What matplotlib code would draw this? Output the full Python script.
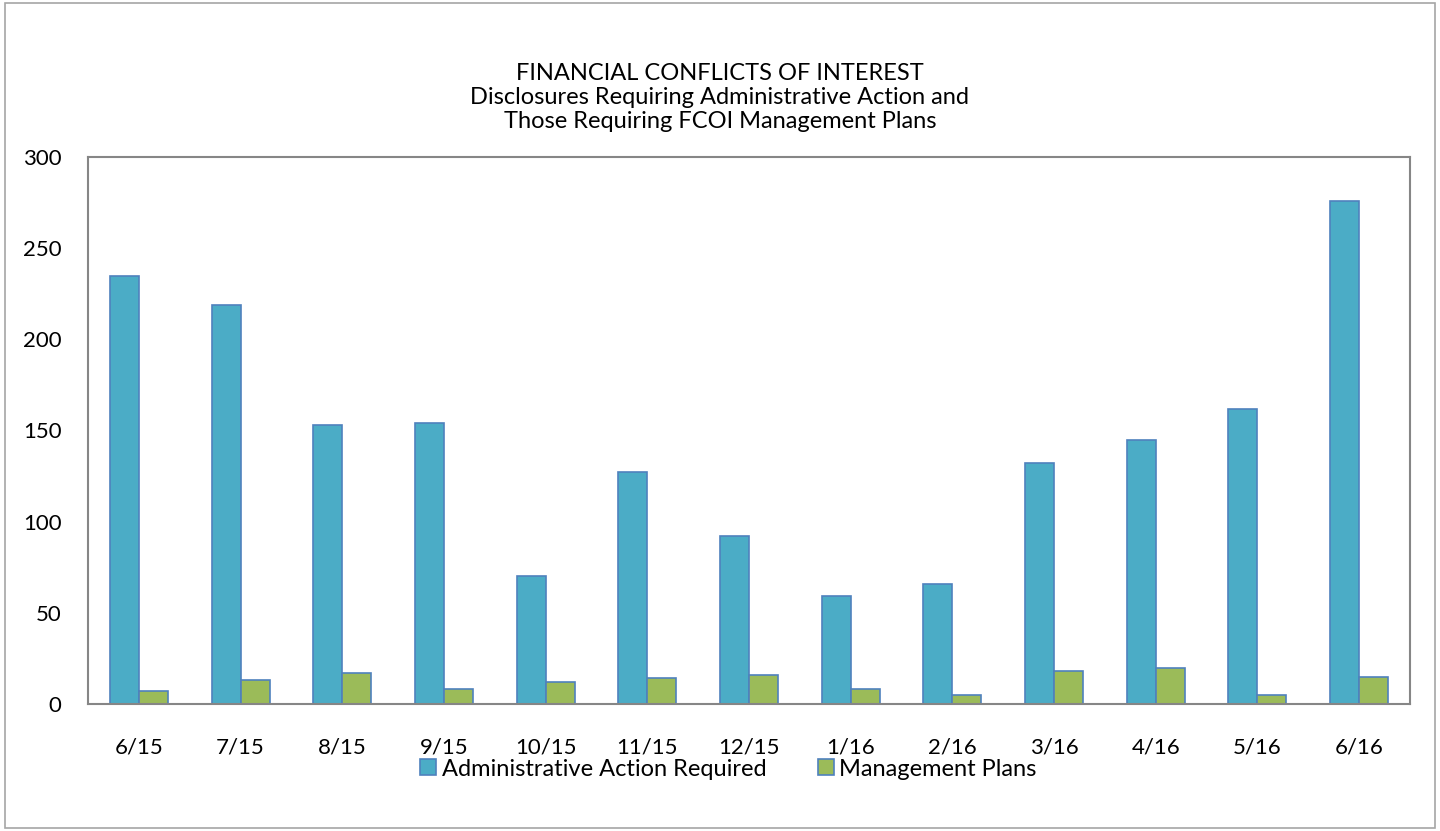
import matplotlib
matplotlib.use("Agg")
import matplotlib.pyplot as plt
import numpy as np
from matplotlib.patches import Rectangle

plt.rcParams['font.family'] = ['Lato', 'DejaVu Sans']

categories = ["6/15", "7/15", "8/15", "9/15", "10/15", "11/15", "12/15",
              "1/16", "2/16", "3/16", "4/16", "5/16", "6/16"]
admin_action = [235, 219, 153, 154, 70, 127, 92, 59, 66, 132, 145, 162, 276]
mgmt_plans = [7, 13, 17, 8, 12, 14, 16, 8, 5, 18, 20, 5, 15]
yticks = [0, 50, 100, 150, 200, 250, 300]

W, H = 1440, 831
fig = plt.figure(figsize=(W / 100, H / 100), dpi=100)
ax = fig.add_axes([88 / W, 1 - 704 / H, (1410 - 88) / W, (704 - 157) / H])

x = np.arange(len(categories))
bw = 0.285
ax.bar(x - bw / 2, admin_action, bw, color="#4BACC6", edgecolor="#4F81BD",
       linewidth=1.2, label="Administrative Action Required")
ax.bar(x + bw / 2, mgmt_plans, bw, color="#9BBB59", edgecolor="#4F81BD",
       linewidth=1.2, label="Management Plans")

ax.set_xlim(-0.5, len(categories) - 0.5)
ax.set_ylim(0, 300)
ax.set_yticks(yticks)
ax.set_xticks(x)
ax.set_xticklabels(categories)
ax.tick_params(axis='both', length=0, labelsize=16, colors='black')
ax.tick_params(axis='x', pad=24)
ax.tick_params(axis='y', pad=19)
for s in ax.spines.values():
    s.set_color("#868686")
    s.set_linewidth(1.5)

title_lines = ["FINANCIAL CONFLICTS OF INTEREST",
               "Disclosures Requiring Administrative Action and",
               "Those Requiring FCOI Management Plans"]
for i, t in enumerate(title_lines):
    fig.text(0.5, 1 - (73 + 24 * i) / H, t, ha='center', va='center', fontsize=17)

leg = fig.legend(loc='center', bbox_to_anchor=(0.506, 1 - 769 / H), ncol=2, frameon=False,
                 fontsize=17, handlelength=0.65, handleheight=0.65, handletextpad=0.25,
                 columnspacing=2.2)

fig.patches.append(Rectangle((5 / W, 3 / H), (W - 10) / W, (H - 6) / H, transform=fig.transFigure,
                             fill=False, edgecolor="#A6A6A6", linewidth=1.2))

fig.savefig("out.png", dpi=100, facecolor='white')
